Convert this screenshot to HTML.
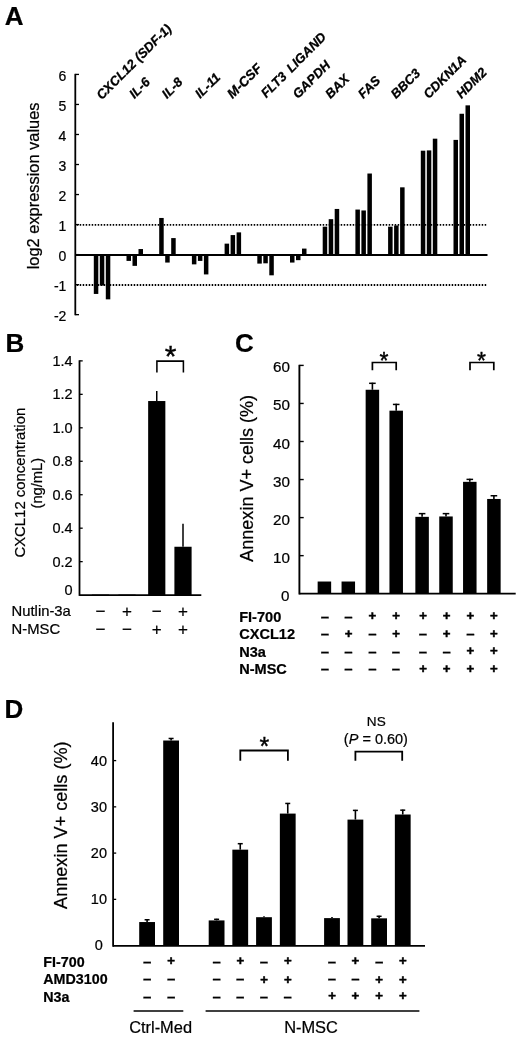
<!DOCTYPE html>
<html lang="en">
<head>
<meta charset="utf-8">
<title>Figure</title>
<style>
html, body { margin: 0; padding: 0; background: #fff; }
body { width: 520px; height: 1038px; overflow: hidden; }
svg { display: block; }
svg text { font-family: "Liberation Sans", Arial, Helvetica, sans-serif; fill: #000; stroke: #000; stroke-width: 0.22px; }
</style>
</head>
<body>
<svg width="520" height="1038" viewBox="0 0 520 1038">
<rect x="0" y="0" width="520" height="1038" fill="#fff"/>
<g fill="#000">
<g id="panelA">
<text x="4.7" y="24.8" font-size="26" font-weight="bold">A</text>
<line x1="75.3" y1="73.82" x2="75.3" y2="315.26" stroke="#000" stroke-width="1.8"/>
<line x1="75.3" y1="314.66" x2="79" y2="314.66" stroke="#000" stroke-width="1.3"/>
<text x="66.4" y="320.96" font-size="14" text-anchor="end">-2</text>
<line x1="75.3" y1="284.63" x2="79" y2="284.63" stroke="#000" stroke-width="1.3"/>
<text x="66.4" y="290.93" font-size="14" text-anchor="end">-1</text>
<line x1="75.3" y1="254.6" x2="79" y2="254.6" stroke="#000" stroke-width="1.3"/>
<text x="66.4" y="260.9" font-size="14" text-anchor="end">0</text>
<line x1="75.3" y1="224.57" x2="79" y2="224.57" stroke="#000" stroke-width="1.3"/>
<text x="66.4" y="230.87" font-size="14" text-anchor="end">1</text>
<line x1="75.3" y1="194.54" x2="79" y2="194.54" stroke="#000" stroke-width="1.3"/>
<text x="66.4" y="200.84" font-size="14" text-anchor="end">2</text>
<line x1="75.3" y1="164.51" x2="79" y2="164.51" stroke="#000" stroke-width="1.3"/>
<text x="66.4" y="170.81" font-size="14" text-anchor="end">3</text>
<line x1="75.3" y1="134.48" x2="79" y2="134.48" stroke="#000" stroke-width="1.3"/>
<text x="66.4" y="140.78" font-size="14" text-anchor="end">4</text>
<line x1="75.3" y1="104.45" x2="79" y2="104.45" stroke="#000" stroke-width="1.3"/>
<text x="66.4" y="110.75" font-size="14" text-anchor="end">5</text>
<line x1="75.3" y1="74.42" x2="79" y2="74.42" stroke="#000" stroke-width="1.3"/>
<text x="66.4" y="80.72" font-size="14" text-anchor="end">6</text>
<line x1="75.3" y1="254.95" x2="487.5" y2="254.95" stroke="#000" stroke-width="1.9"/>
<line x1="76.7" y1="224.92" x2="487" y2="224.92" stroke="#000" stroke-width="1.8" stroke-dasharray="1.5 1.5"/>
<line x1="76.7" y1="284.98" x2="487" y2="284.98" stroke="#000" stroke-width="1.8" stroke-dasharray="1.5 1.5"/>
<text x="38.7" y="185.9" font-size="16.4" text-anchor="middle" transform="rotate(-90 38.7 185.9)">log2 expression values</text>
<rect x="93.8" y="254.6" width="4.5" height="39.34"/>
<rect x="99.8" y="254.6" width="4.5" height="30.93"/>
<rect x="105.8" y="254.6" width="4.5" height="44.74"/>
<text x="101.7" y="100.3" font-size="13.05" font-weight="bold" font-style="italic" transform="rotate(-45 101.7 100.3)" style="stroke-width:0.3px">CXCL12 (SDF-1)</text>
<rect x="126.5" y="254.6" width="4.5" height="6.31"/>
<rect x="132.5" y="254.6" width="4.5" height="11.26"/>
<rect x="138.5" y="249.04" width="4.5" height="5.56"/>
<text x="134.4" y="99.3" font-size="13.05" font-weight="bold" font-style="italic" transform="rotate(-45 134.4 99.3)" style="stroke-width:0.3px">IL-6</text>
<rect x="159.2" y="217.96" width="4.5" height="36.64"/>
<rect x="165.2" y="254.6" width="4.5" height="7.96"/>
<rect x="171.2" y="238.08" width="4.5" height="16.52"/>
<text x="167.1" y="99.3" font-size="13.05" font-weight="bold" font-style="italic" transform="rotate(-45 167.1 99.3)" style="stroke-width:0.3px">IL-8</text>
<rect x="191.9" y="254.6" width="4.5" height="9.76"/>
<rect x="197.9" y="254.6" width="4.5" height="6.31"/>
<rect x="203.9" y="254.6" width="4.5" height="19.82"/>
<text x="200.3" y="99.1" font-size="13.05" font-weight="bold" font-style="italic" transform="rotate(-45 200.3 99.1)" style="stroke-width:0.3px">IL-11</text>
<rect x="224.6" y="243.64" width="4.5" height="10.96"/>
<rect x="230.6" y="235.08" width="4.5" height="19.52"/>
<rect x="236.6" y="232.38" width="4.5" height="22.22"/>
<text x="232.5" y="99.3" font-size="13.5" font-weight="bold" font-style="italic" transform="rotate(-45 232.5 99.3)" style="stroke-width:0.3px">M-CSF</text>
<rect x="257.3" y="254.6" width="4.5" height="9.01"/>
<rect x="263.3" y="254.6" width="4.5" height="8.71"/>
<rect x="269.3" y="254.6" width="4.5" height="20.72"/>
<text x="266.2" y="98.6" font-size="13.05" font-weight="bold" font-style="italic" transform="rotate(-45 266.2 98.6)" style="stroke-width:0.3px;word-spacing:2.2px">FLT3 LIGAND</text>
<rect x="290" y="254.6" width="4.5" height="7.96"/>
<rect x="296" y="254.6" width="4.5" height="5.56"/>
<rect x="302" y="248.59" width="4.5" height="6.01"/>
<text x="297.9" y="99.3" font-size="13.05" font-weight="bold" font-style="italic" transform="rotate(-45 297.9 99.3)" style="stroke-width:0.3px">GAPDH</text>
<rect x="322.7" y="226.67" width="4.5" height="27.93"/>
<rect x="328.7" y="219.16" width="4.5" height="35.44"/>
<rect x="334.7" y="208.95" width="4.5" height="45.65"/>
<text x="330.6" y="99.3" font-size="13.05" font-weight="bold" font-style="italic" transform="rotate(-45 330.6 99.3)" style="stroke-width:0.3px">BAX</text>
<rect x="355.4" y="209.56" width="4.5" height="45.05"/>
<rect x="361.4" y="210.46" width="4.5" height="44.14"/>
<rect x="367.4" y="173.52" width="4.5" height="81.08"/>
<text x="363.3" y="99.3" font-size="13.05" font-weight="bold" font-style="italic" transform="rotate(-45 363.3 99.3)" style="stroke-width:0.3px">FAS</text>
<rect x="388.1" y="226.67" width="4.5" height="27.93"/>
<rect x="394.1" y="225.47" width="4.5" height="29.13"/>
<rect x="400.1" y="187.33" width="4.5" height="67.27"/>
<text x="396" y="99.3" font-size="13.05" font-weight="bold" font-style="italic" transform="rotate(-45 396 99.3)" style="stroke-width:0.3px">BBC3</text>
<rect x="420.8" y="150.7" width="4.5" height="103.9"/>
<rect x="426.8" y="150.4" width="4.5" height="104.2"/>
<rect x="432.8" y="138.68" width="4.5" height="115.92"/>
<text x="428.7" y="99.3" font-size="13.05" font-weight="bold" font-style="italic" transform="rotate(-45 428.7 99.3)" style="stroke-width:0.3px">CDKN1A</text>
<rect x="453.5" y="139.89" width="4.5" height="114.71"/>
<rect x="459.5" y="113.76" width="4.5" height="140.84"/>
<rect x="465.5" y="105.35" width="4.5" height="149.25"/>
<text x="461.4" y="99.3" font-size="13.05" font-weight="bold" font-style="italic" transform="rotate(-45 461.4 99.3)" style="stroke-width:0.3px">HDM2</text>
</g>
<g id="panelB">
<text x="5.6" y="351.8" font-size="26" font-weight="bold">B</text>
<line x1="79.5" y1="360.28" x2="79.5" y2="595.9" stroke="#000" stroke-width="1.8"/>
<line x1="79.5" y1="595.1" x2="201.3" y2="595.1" stroke="#000" stroke-width="1.8"/>
<text x="72.7" y="595.1" font-size="14.5" text-anchor="end">0</text>
<line x1="79.5" y1="561.64" x2="82.7" y2="561.64" stroke="#000" stroke-width="1.3"/>
<text x="72.7" y="566.64" font-size="14.5" text-anchor="end">0.2</text>
<line x1="79.5" y1="528.18" x2="82.7" y2="528.18" stroke="#000" stroke-width="1.3"/>
<text x="72.7" y="533.18" font-size="14.5" text-anchor="end">0.4</text>
<line x1="79.5" y1="494.72" x2="82.7" y2="494.72" stroke="#000" stroke-width="1.3"/>
<text x="72.7" y="499.72" font-size="14.5" text-anchor="end">0.6</text>
<line x1="79.5" y1="461.26" x2="82.7" y2="461.26" stroke="#000" stroke-width="1.3"/>
<text x="72.7" y="466.26" font-size="14.5" text-anchor="end">0.8</text>
<line x1="79.5" y1="427.8" x2="82.7" y2="427.8" stroke="#000" stroke-width="1.3"/>
<text x="72.7" y="432.8" font-size="14.5" text-anchor="end">1.0</text>
<line x1="79.5" y1="394.34" x2="82.7" y2="394.34" stroke="#000" stroke-width="1.3"/>
<text x="72.7" y="399.34" font-size="14.5" text-anchor="end">1.2</text>
<line x1="79.5" y1="360.88" x2="82.7" y2="360.88" stroke="#000" stroke-width="1.3"/>
<text x="72.7" y="365.88" font-size="14.5" text-anchor="end">1.4</text>
<text x="25.5" y="482.7" font-size="14.9" text-anchor="middle" transform="rotate(-90 25.5 482.7)">CXCL12 concentration</text>
<text x="42" y="483.2" font-size="14.7" text-anchor="middle" transform="rotate(-90 42 483.2)">(ng/mL)</text>
<rect x="91.9" y="594.6" width="17.2" height="0.5"/>
<rect x="118.4" y="594.6" width="17.2" height="0.5"/>
<rect x="148.15" y="401.03" width="17.2" height="194.07"/>
<line x1="156.75" y1="401.03" x2="156.75" y2="390.99" stroke="#000" stroke-width="1.5"/>
<rect x="174.4" y="546.75" width="17.2" height="48.35"/>
<line x1="183" y1="546.75" x2="183" y2="523.83" stroke="#000" stroke-width="1.5"/>
<path d="M156.9 372.6 V361.1 H183.4 V372.6" fill="none" stroke="#000" stroke-width="1.55"/>
<text x="170.7" y="365.7" font-size="30" text-anchor="middle" style="stroke-width:0.4px">*</text>
<text x="11.6" y="615.9" font-size="14.8">Nutlin-3a</text>
<text x="11.6" y="633.6" font-size="14.8">N-MSC</text>
<text x="100.5" y="616.9" font-size="17" text-anchor="middle">−</text>
<text x="127" y="616.9" font-size="17" text-anchor="middle">+</text>
<text x="156.75" y="616.9" font-size="17" text-anchor="middle">−</text>
<text x="183" y="616.9" font-size="17" text-anchor="middle">+</text>
<text x="100.5" y="634.9" font-size="17" text-anchor="middle">−</text>
<text x="127" y="634.9" font-size="17" text-anchor="middle">−</text>
<text x="156.75" y="634.9" font-size="17" text-anchor="middle">+</text>
<text x="183" y="634.9" font-size="17" text-anchor="middle">+</text>
</g>
<g id="panelC">
<text x="234.9" y="351.6" font-size="26" font-weight="bold">C</text>
<line x1="299.4" y1="364.8" x2="299.4" y2="594.5" stroke="#000" stroke-width="1.9"/>
<line x1="299.4" y1="593.7" x2="515.7" y2="593.7" stroke="#000" stroke-width="1.7"/>
<text x="289.5" y="600.9" font-size="15.2" text-anchor="end">0</text>
<line x1="299.4" y1="555.65" x2="303.7" y2="555.65" stroke="#000" stroke-width="1.4"/>
<text x="289.9" y="562.65" font-size="15.2" text-anchor="end">10</text>
<line x1="299.4" y1="517.6" x2="303.7" y2="517.6" stroke="#000" stroke-width="1.4"/>
<text x="289.9" y="524.6" font-size="15.2" text-anchor="end">20</text>
<line x1="299.4" y1="479.55" x2="303.7" y2="479.55" stroke="#000" stroke-width="1.4"/>
<text x="289.9" y="486.55" font-size="15.2" text-anchor="end">30</text>
<line x1="299.4" y1="441.5" x2="303.7" y2="441.5" stroke="#000" stroke-width="1.4"/>
<text x="289.9" y="448.5" font-size="15.2" text-anchor="end">40</text>
<line x1="299.4" y1="403.45" x2="303.7" y2="403.45" stroke="#000" stroke-width="1.4"/>
<text x="289.9" y="410.45" font-size="15.2" text-anchor="end">50</text>
<line x1="299.4" y1="365.4" x2="303.7" y2="365.4" stroke="#000" stroke-width="1.4"/>
<text x="289.9" y="372.4" font-size="15.2" text-anchor="end">60</text>
<text x="253" y="478.3" font-size="18.05" text-anchor="middle" transform="rotate(-90 253 478.3)">Annexin V+ cells (%)</text>
<rect x="317.65" y="581.52" width="13.5" height="12.18"/>
<rect x="341.55" y="581.52" width="13.5" height="12.18"/>
<rect x="365.65" y="389.75" width="13.5" height="203.95"/>
<line x1="372.4" y1="389.75" x2="372.4" y2="382.71" stroke="#000" stroke-width="1.6"/>
<line x1="369.1" y1="383.31" x2="375.7" y2="383.31" stroke="#000" stroke-width="1.5"/>
<rect x="389.45" y="410.68" width="13.5" height="183.02"/>
<line x1="396.2" y1="410.68" x2="396.2" y2="403.83" stroke="#000" stroke-width="1.6"/>
<line x1="392.9" y1="404.43" x2="399.5" y2="404.43" stroke="#000" stroke-width="1.5"/>
<rect x="415.35" y="516.84" width="13.5" height="76.86"/>
<line x1="422.1" y1="516.84" x2="422.1" y2="513.03" stroke="#000" stroke-width="1.6"/>
<line x1="418.8" y1="513.63" x2="425.4" y2="513.63" stroke="#000" stroke-width="1.5"/>
<rect x="439.25" y="516.46" width="13.5" height="77.24"/>
<line x1="446" y1="516.46" x2="446" y2="513.03" stroke="#000" stroke-width="1.6"/>
<line x1="442.7" y1="513.63" x2="449.3" y2="513.63" stroke="#000" stroke-width="1.5"/>
<rect x="463.05" y="481.83" width="13.5" height="111.87"/>
<line x1="469.8" y1="481.83" x2="469.8" y2="478.79" stroke="#000" stroke-width="1.6"/>
<line x1="466.5" y1="479.39" x2="473.1" y2="479.39" stroke="#000" stroke-width="1.5"/>
<rect x="487.15" y="498.96" width="13.5" height="94.74"/>
<line x1="493.9" y1="498.96" x2="493.9" y2="495.15" stroke="#000" stroke-width="1.6"/>
<line x1="490.6" y1="495.75" x2="497.2" y2="495.75" stroke="#000" stroke-width="1.5"/>
<path d="M372.4 370.3 V362.5 H396.2 V370.3" fill="none" stroke="#000" stroke-width="1.7"/>
<path d="M470 370.3 V362.5 H493.8 V370.3" fill="none" stroke="#000" stroke-width="1.7"/>
<text x="383.9" y="369" font-size="23" text-anchor="middle" style="stroke-width:0.4px">*</text>
<text x="481.6" y="369" font-size="23" text-anchor="middle" style="stroke-width:0.4px">*</text>
<text x="239.2" y="622" font-size="14.55" font-weight="bold">FI-700</text>
<text x="324.8" y="621.8" font-size="15" text-anchor="middle" font-weight="bold">–</text>
<text x="348.5" y="621.8" font-size="15" text-anchor="middle" font-weight="bold">–</text>
<text x="372.3" y="620.4" font-size="13.2" text-anchor="middle" font-weight="bold" style="stroke-width:0.5px">+</text>
<text x="396" y="620.4" font-size="13.2" text-anchor="middle" font-weight="bold" style="stroke-width:0.5px">+</text>
<text x="423" y="620.4" font-size="13.2" text-anchor="middle" font-weight="bold" style="stroke-width:0.5px">+</text>
<text x="446.7" y="620.4" font-size="13.2" text-anchor="middle" font-weight="bold" style="stroke-width:0.5px">+</text>
<text x="470.3" y="620.4" font-size="13.2" text-anchor="middle" font-weight="bold" style="stroke-width:0.5px">+</text>
<text x="493.9" y="620.4" font-size="13.2" text-anchor="middle" font-weight="bold" style="stroke-width:0.5px">+</text>
<text x="239.2" y="639.45" font-size="14.55" font-weight="bold">CXCL12</text>
<text x="324.8" y="639.25" font-size="15" text-anchor="middle" font-weight="bold">–</text>
<text x="348.5" y="637.85" font-size="13.2" text-anchor="middle" font-weight="bold" style="stroke-width:0.5px">+</text>
<text x="372.3" y="639.25" font-size="15" text-anchor="middle" font-weight="bold">–</text>
<text x="396" y="637.85" font-size="13.2" text-anchor="middle" font-weight="bold" style="stroke-width:0.5px">+</text>
<text x="423" y="639.25" font-size="15" text-anchor="middle" font-weight="bold">–</text>
<text x="446.7" y="637.85" font-size="13.2" text-anchor="middle" font-weight="bold" style="stroke-width:0.5px">+</text>
<text x="470.3" y="639.25" font-size="15" text-anchor="middle" font-weight="bold">–</text>
<text x="493.9" y="637.85" font-size="13.2" text-anchor="middle" font-weight="bold" style="stroke-width:0.5px">+</text>
<text x="239.2" y="656.9" font-size="14.55" font-weight="bold">N3a</text>
<text x="324.8" y="656.7" font-size="15" text-anchor="middle" font-weight="bold">–</text>
<text x="348.5" y="656.7" font-size="15" text-anchor="middle" font-weight="bold">–</text>
<text x="372.3" y="656.7" font-size="15" text-anchor="middle" font-weight="bold">–</text>
<text x="396" y="656.7" font-size="15" text-anchor="middle" font-weight="bold">–</text>
<text x="423" y="656.7" font-size="15" text-anchor="middle" font-weight="bold">–</text>
<text x="446.7" y="656.7" font-size="15" text-anchor="middle" font-weight="bold">–</text>
<text x="470.3" y="655.3" font-size="13.2" text-anchor="middle" font-weight="bold" style="stroke-width:0.5px">+</text>
<text x="493.9" y="655.3" font-size="13.2" text-anchor="middle" font-weight="bold" style="stroke-width:0.5px">+</text>
<text x="239.2" y="674.35" font-size="14.55" font-weight="bold">N-MSC</text>
<text x="324.8" y="674.15" font-size="15" text-anchor="middle" font-weight="bold">–</text>
<text x="348.5" y="674.15" font-size="15" text-anchor="middle" font-weight="bold">–</text>
<text x="372.3" y="674.15" font-size="15" text-anchor="middle" font-weight="bold">–</text>
<text x="396" y="674.15" font-size="15" text-anchor="middle" font-weight="bold">–</text>
<text x="423" y="672.75" font-size="13.2" text-anchor="middle" font-weight="bold" style="stroke-width:0.5px">+</text>
<text x="446.7" y="672.75" font-size="13.2" text-anchor="middle" font-weight="bold" style="stroke-width:0.5px">+</text>
<text x="470.3" y="672.75" font-size="13.2" text-anchor="middle" font-weight="bold" style="stroke-width:0.5px">+</text>
<text x="493.9" y="672.75" font-size="13.2" text-anchor="middle" font-weight="bold" style="stroke-width:0.5px">+</text>
</g>
<g id="panelD">
<text x="4.4" y="717.7" font-size="26" font-weight="bold">D</text>
<line x1="113.1" y1="722.3" x2="113.1" y2="946.7" stroke="#000" stroke-width="1.8"/>
<line x1="113.1" y1="945.8" x2="425" y2="945.8" stroke="#000" stroke-width="1.8"/>
<text x="102.8" y="950.3" font-size="14.5" text-anchor="end">0</text>
<line x1="113.1" y1="899.35" x2="116.2" y2="899.35" stroke="#000" stroke-width="1.3"/>
<text x="107" y="904.4" font-size="14.5" text-anchor="end">10</text>
<line x1="113.1" y1="853.1" x2="116.2" y2="853.1" stroke="#000" stroke-width="1.3"/>
<text x="107" y="858.15" font-size="14.5" text-anchor="end">20</text>
<line x1="113.1" y1="806.85" x2="116.2" y2="806.85" stroke="#000" stroke-width="1.3"/>
<text x="107" y="811.9" font-size="14.5" text-anchor="end">30</text>
<line x1="113.1" y1="760.6" x2="116.2" y2="760.6" stroke="#000" stroke-width="1.3"/>
<text x="107" y="765.65" font-size="14.5" text-anchor="end">40</text>
<text x="67.4" y="825.2" font-size="18.1" text-anchor="middle" transform="rotate(-90 67.4 825.2)">Annexin V+ cells (%)</text>
<rect x="139.2" y="922.04" width="15.8" height="23.76"/>
<line x1="147.1" y1="922.04" x2="147.1" y2="919.27" stroke="#000" stroke-width="1.6"/>
<line x1="144.6" y1="919.77" x2="149.6" y2="919.77" stroke="#000" stroke-width="1.5"/>
<rect x="163.2" y="740.51" width="15.8" height="205.29"/>
<line x1="171.1" y1="740.51" x2="171.1" y2="737.97" stroke="#000" stroke-width="1.6"/>
<line x1="168.6" y1="738.47" x2="173.6" y2="738.47" stroke="#000" stroke-width="1.5"/>
<rect x="208.7" y="920.42" width="15.8" height="25.38"/>
<line x1="216.6" y1="920.42" x2="216.6" y2="918.81" stroke="#000" stroke-width="1.6"/>
<line x1="214.1" y1="919.31" x2="219.1" y2="919.31" stroke="#000" stroke-width="1.5"/>
<rect x="232.35" y="849.66" width="15.8" height="96.14"/>
<line x1="240.25" y1="849.66" x2="240.25" y2="843.19" stroke="#000" stroke-width="1.6"/>
<line x1="237.75" y1="843.69" x2="242.75" y2="843.69" stroke="#000" stroke-width="1.5"/>
<rect x="256.1" y="917.19" width="15.8" height="28.61"/>
<line x1="264" y1="917.19" x2="264" y2="916.26" stroke="#000" stroke-width="1.6"/>
<rect x="279.85" y="813.59" width="15.8" height="132.21"/>
<line x1="287.75" y1="813.59" x2="287.75" y2="802.95" stroke="#000" stroke-width="1.6"/>
<line x1="285.25" y1="803.45" x2="290.25" y2="803.45" stroke="#000" stroke-width="1.5"/>
<rect x="324.1" y="918.11" width="15.8" height="27.69"/>
<line x1="332" y1="918.11" x2="332" y2="916.96" stroke="#000" stroke-width="1.6"/>
<rect x="347.5" y="819.6" width="15.8" height="126.2"/>
<line x1="355.4" y1="819.6" x2="355.4" y2="809.89" stroke="#000" stroke-width="1.6"/>
<line x1="352.9" y1="810.39" x2="357.9" y2="810.39" stroke="#000" stroke-width="1.5"/>
<rect x="371.2" y="918.34" width="15.8" height="27.46"/>
<line x1="379.1" y1="918.34" x2="379.1" y2="915.8" stroke="#000" stroke-width="1.6"/>
<line x1="376.6" y1="916.3" x2="381.6" y2="916.3" stroke="#000" stroke-width="1.5"/>
<rect x="394.85" y="814.51" width="15.8" height="131.29"/>
<line x1="402.75" y1="814.51" x2="402.75" y2="809.66" stroke="#000" stroke-width="1.6"/>
<line x1="400.25" y1="810.16" x2="405.25" y2="810.16" stroke="#000" stroke-width="1.5"/>
<path d="M240.3 760.7 V750.5 H287.9 V760.7" fill="none" stroke="#000" stroke-width="1.8"/>
<path d="M355.4 760.7 V751.6 H402.2 V760.7" fill="none" stroke="#000" stroke-width="1.8"/>
<text x="264.3" y="754.8" font-size="25" text-anchor="middle" style="stroke-width:0.4px">*</text>
<text x="376.3" y="725.9" font-size="13.6" text-anchor="middle">NS</text>
<text x="375.9" y="744.4" font-size="14.5" text-anchor="middle">(<tspan font-style="italic">P</tspan> = 0.60)</text>
<text x="43.3" y="967" font-size="14.3" font-weight="bold">FI-700</text>
<text x="147.1" y="967" font-size="15" text-anchor="middle" font-weight="bold">–</text>
<text x="171.1" y="964.8" font-size="13.2" text-anchor="middle" font-weight="bold" style="stroke-width:0.5px">+</text>
<text x="216.6" y="967" font-size="15" text-anchor="middle" font-weight="bold">–</text>
<text x="240.25" y="964.8" font-size="13.2" text-anchor="middle" font-weight="bold" style="stroke-width:0.5px">+</text>
<text x="264" y="967" font-size="15" text-anchor="middle" font-weight="bold">–</text>
<text x="287.75" y="964.8" font-size="13.2" text-anchor="middle" font-weight="bold" style="stroke-width:0.5px">+</text>
<text x="332" y="967" font-size="15" text-anchor="middle" font-weight="bold">–</text>
<text x="355.4" y="964.8" font-size="13.2" text-anchor="middle" font-weight="bold" style="stroke-width:0.5px">+</text>
<text x="379.1" y="967" font-size="15" text-anchor="middle" font-weight="bold">–</text>
<text x="402.75" y="964.8" font-size="13.2" text-anchor="middle" font-weight="bold" style="stroke-width:0.5px">+</text>
<text x="43.3" y="984.35" font-size="14.3" font-weight="bold">AMD3100</text>
<text x="147.1" y="984.15" font-size="15" text-anchor="middle" font-weight="bold">–</text>
<text x="171.1" y="984.15" font-size="15" text-anchor="middle" font-weight="bold">–</text>
<text x="216.6" y="984.15" font-size="15" text-anchor="middle" font-weight="bold">–</text>
<text x="240.25" y="984.15" font-size="15" text-anchor="middle" font-weight="bold">–</text>
<text x="264" y="983.55" font-size="13.2" text-anchor="middle" font-weight="bold" style="stroke-width:0.5px">+</text>
<text x="287.75" y="983.55" font-size="13.2" text-anchor="middle" font-weight="bold" style="stroke-width:0.5px">+</text>
<text x="332" y="984.15" font-size="15" text-anchor="middle" font-weight="bold">–</text>
<text x="355.4" y="984.15" font-size="15" text-anchor="middle" font-weight="bold">–</text>
<text x="379.1" y="983.55" font-size="13.2" text-anchor="middle" font-weight="bold" style="stroke-width:0.5px">+</text>
<text x="402.75" y="983.55" font-size="13.2" text-anchor="middle" font-weight="bold" style="stroke-width:0.5px">+</text>
<text x="43.3" y="1001.7" font-size="14.3" font-weight="bold">N3a</text>
<text x="147.1" y="1002.2" font-size="15" text-anchor="middle" font-weight="bold">–</text>
<text x="171.1" y="1002.2" font-size="15" text-anchor="middle" font-weight="bold">–</text>
<text x="216.6" y="1002.2" font-size="15" text-anchor="middle" font-weight="bold">–</text>
<text x="240.25" y="1002.2" font-size="15" text-anchor="middle" font-weight="bold">–</text>
<text x="264" y="1002.2" font-size="15" text-anchor="middle" font-weight="bold">–</text>
<text x="287.75" y="1002.2" font-size="15" text-anchor="middle" font-weight="bold">–</text>
<text x="332" y="1000.4" font-size="13.2" text-anchor="middle" font-weight="bold" style="stroke-width:0.5px">+</text>
<text x="355.4" y="1000.4" font-size="13.2" text-anchor="middle" font-weight="bold" style="stroke-width:0.5px">+</text>
<text x="379.1" y="1000.4" font-size="13.2" text-anchor="middle" font-weight="bold" style="stroke-width:0.5px">+</text>
<text x="402.75" y="1000.4" font-size="13.2" text-anchor="middle" font-weight="bold" style="stroke-width:0.5px">+</text>
<line x1="133.6" y1="1011" x2="183.3" y2="1011" stroke="#000" stroke-width="1.4"/>
<line x1="205.6" y1="1011" x2="419.4" y2="1011" stroke="#000" stroke-width="1.4"/>
<text x="160.6" y="1033.3" font-size="16.4" text-anchor="middle">Ctrl-Med</text>
<text x="311" y="1033.3" font-size="16.4" text-anchor="middle">N-MSC</text>
</g>
</g>
</svg>
</body>
</html>
